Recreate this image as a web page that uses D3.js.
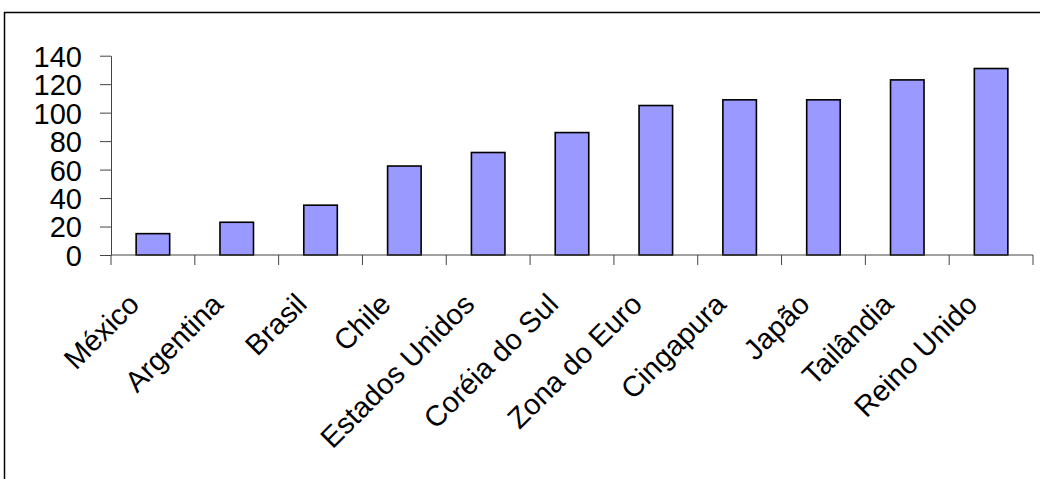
<!DOCTYPE html>
<html>
<head>
<meta charset="utf-8">
<script src="https://cdn.jsdelivr.net/npm/d3@7/dist/d3.min.js"></script>
<style>
  html, body { margin: 0; padding: 0; background: #fff; }
  svg { display: block; }
</style>
</head>
<body>
<svg id="chart" width="1040" height="479"></svg>
<script>
// Categories, values and axis ticks
const countries = ["México", "Argentina", "Brasil", "Chile", "Estados Unidos",
  "Coréia do Sul", "Zona do Euro", "Cingapura", "Japão", "Tailândia", "Reino Unido"];
const values = [15, 23, 35, 62.5, 72, 86, 105, 109, 109, 123, 131];
const yTicks = [0, 20, 40, 60, 80, 100, 120, 140];

const svg = d3.select("#chart");
const font = "'Liberation Sans', Arial, sans-serif";

// Outer frame (right and bottom edges run past the page)
svg.append("rect")
  .attr("x", 4.5).attr("y", 12.5)
  .attr("width", 1100).attr("height", 600)
  .attr("fill", "none").attr("stroke", "#000").attr("stroke-width", 1.5);

const x = d3.scaleBand().domain(countries).range([111, 1033])
  .paddingInner(0.6).paddingOuter(0.3);
const y = d3.scaleLinear().domain([0, 140]).range([255, 55.7]);

// Bars
svg.append("g").selectAll("rect").data(values).join("rect")
  .attr("x", (d, i) => x(countries[i]))
  .attr("y", d => y(d))
  .attr("width", x.bandwidth())
  .attr("height", d => y(0) - y(d))
  .attr("fill", "#9999ff")
  .attr("stroke", "#000").attr("stroke-width", 1.6);

// Y axis
const yAxis = svg.append("g").attr("transform", "translate(111,0)")
  .call(d3.axisLeft(y).tickValues(yTicks).tickSize(11).tickPadding(18).tickSizeOuter(0));
yAxis.select(".domain").attr("stroke", "#444");
yAxis.selectAll(".tick line").attr("stroke", "#444");
yAxis.selectAll(".tick text")
  .attr("font-family", font).attr("font-size", 29).attr("fill", "#000")
  .attr("dy", "0.36em");

// X axis: baseline with tick marks at category boundaries
const step = x.step();
const boundaries = d3.range(countries.length + 1).map(i => 111 + i * step);
const xg = svg.append("g");
xg.append("line")
  .attr("x1", 111).attr("x2", 1033).attr("y1", y(0)).attr("y2", y(0))
  .attr("stroke", "#444");
xg.selectAll("line.tk").data(boundaries).join("line").attr("class", "tk")
  .attr("x1", d => d).attr("x2", d => d)
  .attr("y1", y(0)).attr("y2", y(0) + 10)
  .attr("stroke", "#444");

// Rotated category labels
xg.selectAll("text").data(countries).join("text")
  .attr("transform", d => `translate(${x(d) + x.bandwidth() / 2 - 12},306) rotate(-45)`)
  .attr("text-anchor", "end")
  .attr("font-family", font).attr("font-size", 29).attr("fill", "#000")
  .text(d => d);
</script>
</body>
</html>
